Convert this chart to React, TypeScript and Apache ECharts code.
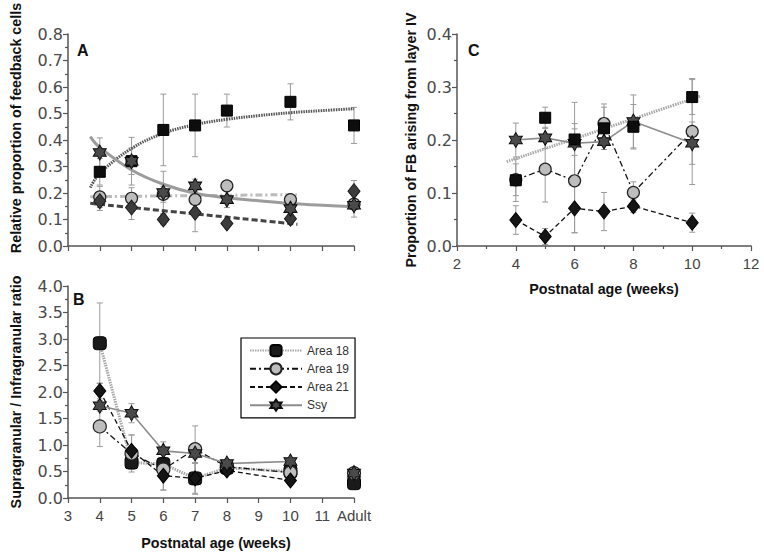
import React, { useEffect, useRef } from "react";
import * as echarts from "echarts";

// ---------- data ----------
const weeks = [4, 5, 6, 7, 8, 10, 12]; // 12 = Adult
const weeksC = [4, 5, 6, 7, 8, 10];

// Panel A: relative proportion of feedback cells
const aArea18 = [0.28, 0.32, 0.438, 0.455, 0.511, 0.544, 0.455];
const aArea18Err = [0.05, 0.09, 0.135, 0.118, 0.062, 0.068, 0.068];
const aArea19 = [0.185, 0.18, 0.195, 0.175, 0.227, 0.175, 0.158];
const aArea19Err = [0.04, 0.04, 0.03, 0.03, 0.02, 0.02, 0.02];
const aArea21 = [0.169, 0.145, 0.1, 0.126, 0.085, 0.103, 0.207];
const aArea21Err = [0.035, 0.045, 0.02, 0.072, 0.01, 0.015, 0.04];
const aSsy = [0.353, 0.32, 0.202, 0.227, 0.175, 0.141, 0.154];
const aSsyErr = [0.055, 0.05, 0.08, 0.025, 0.03, 0.02, 0.045];

// Panel A fitted curves
const fitA18X = [3.7, 4, 5, 6, 7, 8, 9, 10, 11, 12];
const fitA18Y = [0.22, 0.274, 0.368, 0.425, 0.458, 0.478, 0.492, 0.503, 0.511, 0.518];
const fitSsyX = [3.7, 4, 5, 6, 7, 8, 9, 10, 11, 12];
const fitSsyY = [0.413, 0.372, 0.287, 0.233, 0.199, 0.182, 0.171, 0.16, 0.154, 0.148];
const fitA19X = [3.7, 10.2];
const fitA19Y = [0.186, 0.194];
const fitA21X = [3.7, 10.22];
const fitA21Y = [0.161, 0.082];

// Panel B: supragranular / infragranular ratio
const bArea18 = [2.92, 0.67, 0.64, 0.37, 0.57, 0.5, 0.28];
const bArea18Err = [0.76, 0.12, 0.1, 0.3, 0.06, 0.05, 0];
const bArea19 = [1.35, 0.84, 0.54, 0.92, 0.59, 0.48, 0.47];
const bArea19Err = [0.38, 0.35, 0.39, 0.44, 0.06, 0.05, 0];
const bArea21 = [2.02, 0.89, 0.42, 0.37, 0.52, 0.33];
const bArea21Err = [0.15, 0.3, 0.27, 0.28, 0.05, 0.05];
const bSsy = [1.74, 1.6, 0.89, 0.84, 0.65, 0.69, 0.47];
const bSsyErr = [0.1, 0.18, 0.17, 0.1, 0.08, 0.06, 0];

// Panel C: proportion of FB arising from layer IV
const cArea18 = [0.124, 0.242, 0.201, 0.222, 0.225, 0.281];
const cArea18Err = [0.04, 0.02, 0.03, 0.04, 0.042, 0.033];
const cArea19 = [0.125, 0.145, 0.123, 0.231, 0.101, 0.216];
const cArea19Err = [0.03, 0.062, 0.098, 0.037, 0.02, 0.1];
const cArea21 = [0.049, 0.018, 0.071, 0.065, 0.075, 0.044];
const cArea21Err = [0.027, 0.015, 0.046, 0.036, 0.012, 0.018];
const cSsy = [0.2, 0.204, 0.194, 0.197, 0.235, 0.194];
const cSsyErr = [0.032, 0.02, 0.077, 0.015, 0.05, 0.04];
const fitC18X = [3.69, 10.29];
const fitC18Y = [0.159, 0.283];

const legendNames = ["Area 18", "Area 19", "Area 21", "Ssy"];

// ---------- helpers ----------
const FONT = "'Liberation Sans', Arial, Helvetica, sans-serif";
const YFONT = "'DejaVu Sans', 'Liberation Sans', sans-serif";
const STAR =
  "path://M100,0L128.9,50L186.6,50L157.7,100L186.6,150L128.9,150L100,200L71.1,150L13.4,150L42.3,100L13.4,50L71.1,50Z";

const pts = (xs: number[], ys: (number | null)[]) =>
  xs.map((x, i) => [x, ys[i]]).filter((p) => p[1] !== null && p[1] !== undefined);

const errData = (xs: number[], vals: number[], errs: number[]) =>
  xs
    .map((x, i) => (errs[i] ? [x, vals[i] - errs[i], vals[i] + errs[i]] : null))
    .filter(Boolean);

const errRender = (params: any, api: any) => {
  const x = api.value(0);
  const lo = api.coord([x, api.value(1)]);
  const hi = api.coord([x, api.value(2)]);
  const c = 3;
  const st = { stroke: "#9a9a9a", lineWidth: 1 };
  return {
    type: "group",
    children: [
      { type: "line", shape: { x1: lo[0], y1: lo[1], x2: hi[0], y2: hi[1] }, style: st },
      { type: "line", shape: { x1: hi[0] - c, y1: hi[1], x2: hi[0] + c, y2: hi[1] }, style: st },
      { type: "line", shape: { x1: lo[0] - c, y1: lo[1], x2: lo[0] + c, y2: lo[1] }, style: st },
    ],
  };
};

const errSeries = (idx: number, xs: number[], vals: number[], errs: number[]) => ({
  type: "custom",
  name: "err",
  xAxisIndex: idx,
  yAxisIndex: idx,
  renderItem: errRender,
  data: errData(xs, vals, errs),
  encode: { x: 0, y: [1, 2] },
  z: 1,
  silent: true,
});

const M18 = { symbol: "rect", symbolSize: 11, itemStyle: { color: "#0d0d0d", borderColor: "#000", borderWidth: 1, opacity: 1 } };
const M18B = { symbol: "roundRect", symbolSize: 13, itemStyle: { color: "#1a1a1a", borderColor: "#000", borderWidth: 1, opacity: 1 } };
const M19 = { symbol: "circle", symbolSize: 12, itemStyle: { color: "#bdbdbd", borderColor: "#222", borderWidth: 1.2, opacity: 1 } };
const M19B = { symbol: "circle", symbolSize: 13, itemStyle: { color: "#bdbdbd", borderColor: "#222", borderWidth: 1.2, opacity: 1 } };
const M21A = { symbol: "diamond", symbolSize: [12, 15], itemStyle: { color: "#3c3c3c", borderColor: "#1a1a1a", borderWidth: 1, opacity: 1 } };
const M21 = { symbol: "diamond", symbolSize: [12, 15], itemStyle: { color: "#151515", borderColor: "#000", borderWidth: 1, opacity: 1 } };
const MSSY = { symbol: STAR, symbolSize: [13, 15], itemStyle: { color: "#4a4a4a", borderColor: "#0d0d0d", borderWidth: 1, opacity: 1 } };

const scatter = (name: string, idx: number, xs: number[], ys: any[], m: any) => ({
  type: "scatter",
  name,
  xAxisIndex: idx,
  yAxisIndex: idx,
  data: pts(xs, ys),
  ...m,
  z: 4,
});

const fitLine = (name: string, idx: number, xs: number[], ys: number[], ls: any) => ({
  type: "line",
  name,
  xAxisIndex: idx,
  yAxisIndex: idx,
  data: pts(xs, ys),
  smooth: 0.4,
  symbol: "none",
  lineStyle: ls,
  z: 3,
});

const connLine = (name: string, idx: number, xs: number[], ys: any[], m: any, ls: any) => ({
  type: "line",
  name,
  xAxisIndex: idx,
  yAxisIndex: idx,
  data: pts(xs, ys),
  showAllSymbol: true,
  ...m,
  lineStyle: ls,
  z: 4,
});

const LS18 = { color: "#a8a8a8", width: 3, type: [1.5, 1] };
const LS19 = { color: "#111", width: 1.3, type: [6, 3, 2, 3] };
const LS21 = { color: "#111", width: 1.3, type: [5, 3] };
const LSSSY = { color: "#8c8c8c", width: 1.6, type: "solid" };

const axisLine = { lineStyle: { color: "#555", width: 1.5 } };
const axisTick = { length: 5, lineStyle: { color: "#555", width: 1.2 } };
const minorTick = { show: true, splitNumber: 2, length: 3, lineStyle: { color: "#555", width: 1.2 } };
const tickLabel = { fontSize: 15, color: "#444", fontFamily: FONT };
const yTickLabel = { fontSize: 16, color: "#4a4a4a", fontFamily: YFONT };
const nameStyle = { fontSize: 14.3, fontWeight: "bold", color: "#111", fontFamily: FONT };

export default function App() {
  const ref = useRef<HTMLDivElement>(null);
  useEffect(() => {
    if (!ref.current) return;
    const chart = echarts.init(ref.current, undefined, { renderer: "svg" });
    const weeksB = weeks.slice(0, 6);
    const option: any = {
      animation: false,
      backgroundColor: "#fff",
      textStyle: { fontFamily: FONT },
      grid: [
        { left: 68, top: 34, width: 286, height: 212 },
        { left: 68, top: 286, width: 286, height: 212 },
        { left: 457, top: 34, width: 294, height: 212 },
      ],
      xAxis: [
        {
          type: "value", gridIndex: 0, min: 3, max: 12, interval: 1,
          axisLine, axisTick, axisLabel: { show: false }, splitLine: { show: false },
        },
        {
          type: "value", gridIndex: 1, min: 3, max: 12, interval: 1,
          axisLine, axisTick, splitLine: { show: false },
          axisLabel: { ...tickLabel, margin: 10, formatter: (v: number) => (v === 12 ? "Adult" : String(v)) },
          name: "Postnatal age (weeks)", nameLocation: "middle", nameGap: 38,
          nameTextStyle: { ...nameStyle, padding: [0, 0, 0, 10] },
        },
        {
          type: "value", gridIndex: 2, min: 2, max: 12, interval: 2,
          axisLine, axisTick, minorTick, splitLine: { show: false }, minorSplitLine: { show: false },
          axisLabel: { ...tickLabel, margin: 10 },
          name: "Postnatal age (weeks)", nameLocation: "middle", nameGap: 36, nameTextStyle: nameStyle,
        },
      ],
      yAxis: [
        {
          type: "value", gridIndex: 0, min: 0, max: 0.8, interval: 0.1,
          axisLine: { show: true, ...axisLine }, axisTick: { show: true, ...axisTick }, minorTick,
          splitLine: { show: false }, minorSplitLine: { show: false },
          axisLabel: { ...yTickLabel, margin: 5, formatter: (v: number) => v.toFixed(1) },
          name: "Relative proportion of feedback cells", nameLocation: "middle", nameRotate: 90,
          nameGap: 45, nameTextStyle: { ...nameStyle, padding: [0, 0, 0, 24] },
        },
        {
          type: "value", gridIndex: 1, min: 0, max: 4, interval: 0.5,
          axisLine: { show: true, ...axisLine }, axisTick: { show: true, ...axisTick }, minorTick,
          splitLine: { show: false }, minorSplitLine: { show: false },
          axisLabel: { ...yTickLabel, margin: 5, formatter: (v: number) => v.toFixed(1) },
          name: "Supragranular / Infragranular ratio", nameLocation: "middle", nameRotate: 90,
          nameGap: 45, nameTextStyle: nameStyle,
        },
        {
          type: "value", gridIndex: 2, min: 0, max: 0.4, interval: 0.1,
          axisLine: { show: true, ...axisLine }, axisTick: { show: true, ...axisTick }, minorTick,
          splitLine: { show: false }, minorSplitLine: { show: false },
          axisLabel: { ...yTickLabel, margin: 5, formatter: (v: number) => v.toFixed(1) },
          name: "Proportion of FB arising from layer IV", nameLocation: "middle", nameRotate: 90,
          nameGap: 39, nameTextStyle: nameStyle,
        },
      ],
      legend: {
        data: legendNames,
        orient: "vertical",
        left: 241,
        top: 338,
        padding: [6, 6, 6, 8],
        itemWidth: 52,
        itemHeight: 14,
        itemGap: 5,
        borderColor: "#000",
        borderWidth: 1.2,
        backgroundColor: "#fff",
        selectedMode: false,
        textStyle: { fontSize: 12, color: "#333", fontFamily: FONT },
      },
      graphic: [
        { type: "text", left: 77, top: 42, style: { text: "A", font: `bold 16px ${FONT}`, fill: "#111" } },
        { type: "text", left: 73, top: 291, style: { text: "B", font: `bold 16px ${FONT}`, fill: "#111" } },
        { type: "text", left: 468, top: 42, style: { text: "C", font: `bold 16px ${FONT}`, fill: "#111" } },
      ],
      series: [
        // ----- Panel A -----
        errSeries(0, weeks, aArea18, aArea18Err),
        errSeries(0, weeks, aArea19, aArea19Err),
        errSeries(0, weeks, aArea21, aArea21Err),
        errSeries(0, weeks, aSsy, aSsyErr),
        fitLine("A fit 18", 0, fitA18X, fitA18Y, { color: "#555", width: 3, type: [1.5, 1] }),
        fitLine("A fit 19", 0, fitA19X, fitA19Y, { color: "#bcbcbc", width: 3, type: [7, 3, 2, 3] }),
        fitLine("A fit 21", 0, fitA21X, fitA21Y, { color: "#444", width: 3, type: [6, 3] }),
        fitLine("A fit Ssy", 0, fitSsyX, fitSsyY, { color: "#9c9c9c", width: 3, type: "solid" }),
        scatter("A Area 19", 0, weeks, aArea19, M19),
        scatter("A Area 21", 0, weeks, aArea21, M21A),
        scatter("A Area 18", 0, weeks, aArea18, M18),
        scatter("A Ssy", 0, weeks, aSsy, MSSY),
        // ----- Panel B -----
        errSeries(1, weeks, bArea18, bArea18Err),
        errSeries(1, weeks, bArea19, bArea19Err),
        errSeries(1, weeksB, bArea21, bArea21Err),
        errSeries(1, weeks, bSsy, bSsyErr),
        connLine("Area 18", 1, weeksB, bArea18.slice(0, 6), M18B, LS18),
        connLine("Area 19", 1, weeksB, bArea19.slice(0, 6), M19B, LS19),
        connLine("Area 21", 1, weeksB, bArea21, M21, LS21),
        connLine("Ssy", 1, weeksB, bSsy.slice(0, 6), MSSY, LSSSY),
        scatter("B Area 18 adult", 1, [12], [bArea18[6]], M18B),
        scatter("B Area 19 adult", 1, [12], [bArea19[6]], M19B),
        scatter("B Ssy adult", 1, [12], [bSsy[6]], MSSY),
        // ----- Panel C -----
        errSeries(2, weeksC, cArea18, cArea18Err),
        errSeries(2, weeksC, cArea19, cArea19Err),
        errSeries(2, weeksC, cArea21, cArea21Err),
        errSeries(2, weeksC, cSsy, cSsyErr),
        fitLine("C fit 18", 2, fitC18X, fitC18Y, { color: "#a8a8a8", width: 3, type: [1.5, 1] }),
        connLine("C Area 19", 2, weeksC, cArea19, M19, LS19),
        connLine("C Area 21", 2, weeksC, cArea21, M21, LS21),
        connLine("C Ssy", 2, weeksC, cSsy, MSSY, LSSSY),
        scatter("C Area 18", 2, weeksC, cArea18, M18),
      ],
    };
    chart.setOption(option);
    return () => chart.dispose();
  }, []);
  return <div ref={ref} style={{ width: 764, height: 558, position: "absolute", left: 0, top: 0 }} />;
}
